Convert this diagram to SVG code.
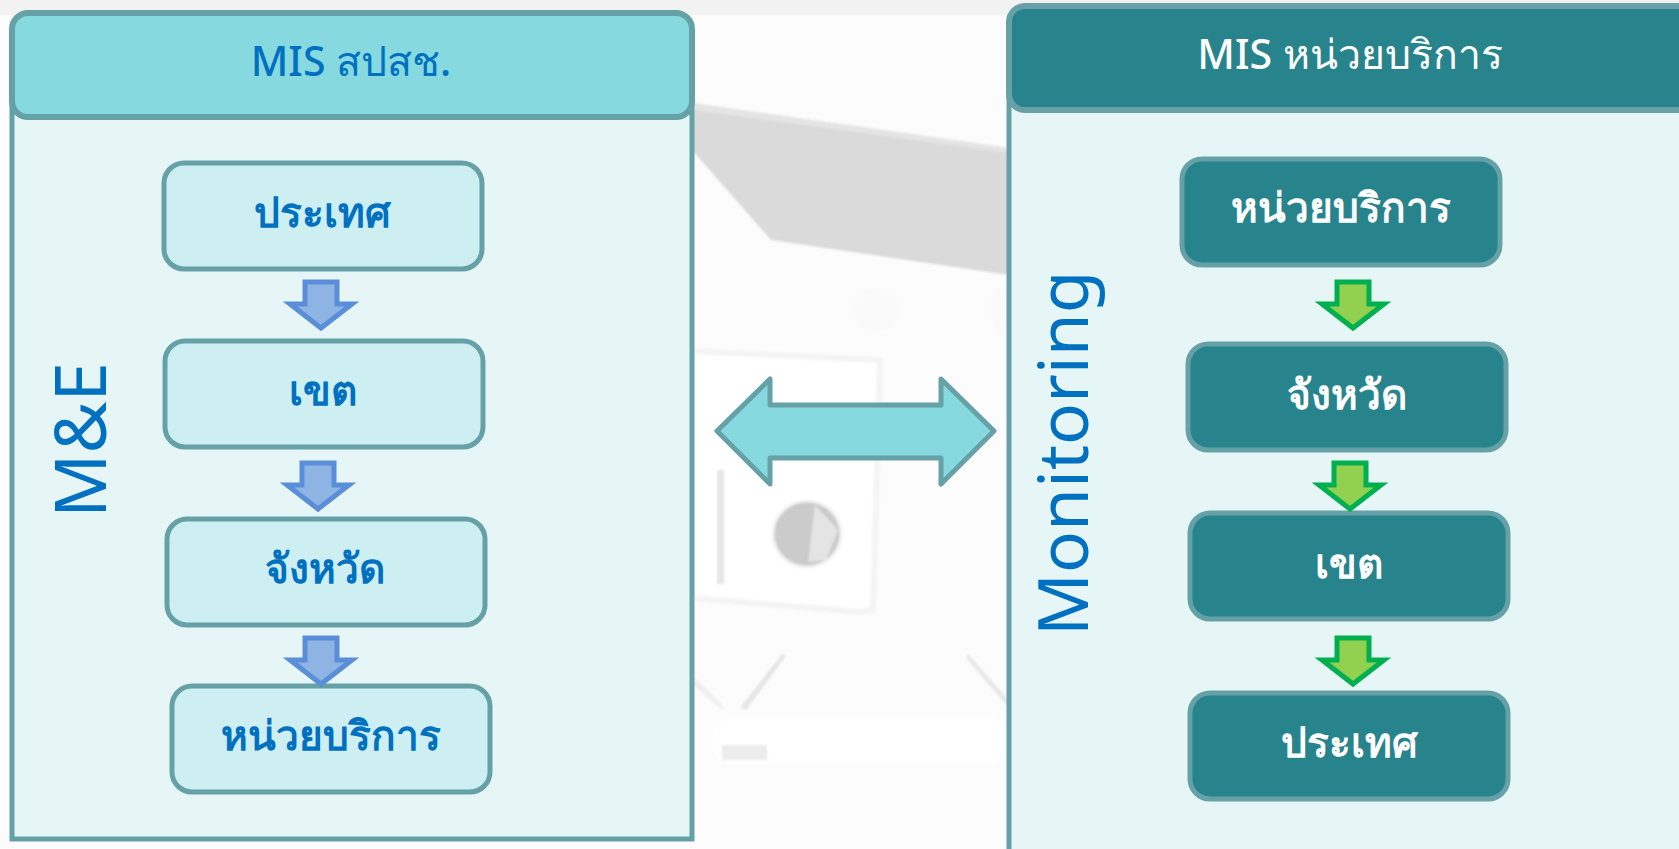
<svg xmlns="http://www.w3.org/2000/svg" width="1679" height="849" viewBox="0 0 1679 849">
<defs><filter id="soft" x="-10%" y="-10%" width="120%" height="120%"><feGaussianBlur stdDeviation="1"/></filter></defs>
<style>
text{font-family:"Noto Sans","Open Sans","DejaVu Sans",sans-serif;text-anchor:middle}
.panel{fill:#e6f6f7;stroke:#66a1a8;stroke-width:5}
.hdrL{fill:#86d9df;stroke:#66a1a8;stroke-width:6}
.hdrR{fill:#27838c;stroke:#66a1a8;stroke-width:6}
.nL{fill:#cdeff1;stroke:#66a1a8;stroke-width:5}
.nR{fill:#27838c;stroke:#66a1a8;stroke-width:5}
.tB{fill:#0070c0}.tW{fill:#fff}
.lab{font-size:40.6px;font-weight:600}
.hd{font-size:41px;font-weight:500}
.side{font-size:70px;fill:#0070c0;text-anchor:start}
.aB{fill:#8eb4e3;stroke:#5b8ed8;stroke-width:5}
.aG{fill:#92d050;stroke:#00b050;stroke-width:5}
</style>
<g id="background">
<rect width="1679" height="849" fill="#fcfcfc"/>
<rect width="1679" height="15" fill="#f2f2f2"/>
<g filter="url(#soft)">
<polygon points="692,103 1009,148 1009,275 771,240 692,150" fill="#dadada"/>
<polygon points="692,103 1009,148 1009,153 692,110" fill="#e4e4e4"/>
<polygon points="692,351 880,360 873,610 860,612 692,598" fill="#fff" stroke="#f4f4f4" stroke-width="6"/>
<ellipse cx="877" cy="310" rx="24" ry="22" fill="#fafafa"/>
<ellipse cx="1000" cy="310" rx="10" ry="22" fill="#fafafa"/>
<ellipse cx="807" cy="534" rx="34" ry="33" fill="#cbcbcb" stroke="#f2f2f2" stroke-width="3"/>
<polygon points="815,505 838,530 826,560 808,562" fill="#e4e4e4"/>
<rect x="717" y="470" width="7" height="114" fill="#e6e6e6"/>
<polygon points="740,708 782,654 786,656 746,710" fill="#e6e6e6"/>
<polygon points="968,654 1009,700 1009,708 966,658" fill="#e8e8e8"/>
<polygon points="692,675 725,708 720,708 692,684" fill="#efefef"/>
<rect x="712" y="718" width="300" height="45" rx="20" fill="#fff"/>
<rect x="722" y="745" width="45" height="15" fill="#ececec"/>
</g>
</g>
<g id="panel-left">
<rect class="panel" x="12" y="88" width="680" height="751"/>
<rect class="hdrL" x="12" y="13" width="680" height="104" rx="16"/>
<text class="hd tB" x="351" y="76">MIS สปสช.</text>
<text class="side" transform="translate(106 518) rotate(-90)" style="font-size:71px">M&amp;E</text>
</g>
<g id="panel-right">
<rect class="panel" x="1009" y="98" width="700" height="762"/>
<rect class="hdrR" x="1009" y="6" width="700" height="104" rx="16"/>
<text class="hd tW" x="1350" y="69">MIS หน่วยบริการ</text>
<text class="side" transform="translate(1088 636) rotate(-90)" style="font-size:69.5px">Monitoring</text>
</g>
<g id="node-l1"><rect class="nL" x="164" y="163" width="318" height="106" rx="20"/><text class="lab tB" x="322" y="227">ประเทศ</text></g>
<g id="node-l2"><rect class="nL" x="165" y="341" width="318" height="106" rx="20"/><text class="lab tB" x="323" y="405">เขต</text></g>
<g id="node-l3"><rect class="nL" x="167" y="519" width="318" height="106" rx="20"/><text class="lab tB" x="325" y="583">จังหวัด</text></g>
<g id="node-l4"><rect class="nL" x="172" y="686" width="318" height="106" rx="20"/><text class="lab tB" x="331" y="750">หน่วยบริการ</text></g>
<g id="node-r1"><rect class="nR" x="1182" y="159" width="318" height="106" rx="20"/><text class="lab tW" x="1341" y="222">หน่วยบริการ</text></g>
<g id="node-r2"><rect class="nR" x="1188" y="344" width="318" height="106" rx="20"/><text class="lab tW" x="1347" y="409">จังหวัด</text></g>
<g id="node-r3"><rect class="nR" x="1190" y="513" width="318" height="106" rx="20"/><text class="lab tW" x="1349" y="578">เขต</text></g>
<g id="node-r4"><rect class="nR" x="1190" y="693" width="318" height="106" rx="20"/><text class="lab tW" x="1349" y="757">ประเทศ</text></g>
<g id="connectors">
<path class="aB" d="M305 282h32v22h15l-31 24-31-24h15z"/>
<path class="aB" d="M302 463h32v22h15l-31 24-31-24h15z"/>
<path class="aB" d="M305 638h32v22h15l-31 24-31-24h15z"/>
<path class="aG" d="M1337 282h32v22h15l-31 24-31-24h15z"/>
<path class="aG" d="M1334 463h32v22h15l-31 24-31-24h15z"/>
<path class="aG" d="M1337 638h32v22h15l-31 24-31-24h15z"/>
<polygon points="717,431 770,379 770,405 941,405 941,379 994,431 941,484 941,458 770,458 770,484" fill="#86d9df" stroke="#66a1a8" stroke-width="5" stroke-linejoin="round"/>
</g>
</svg>
